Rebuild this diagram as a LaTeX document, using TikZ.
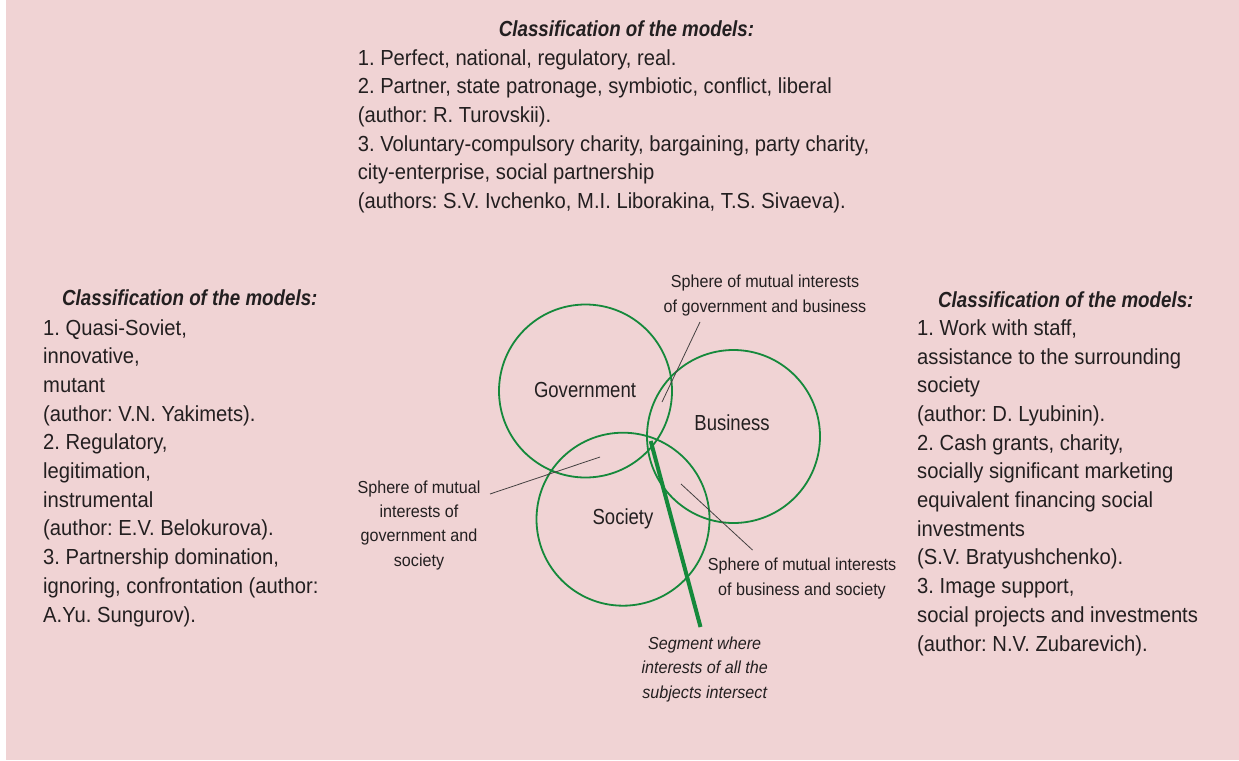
\documentclass[tikz,border=0pt]{standalone}
\usepackage{fontspec}
\setmainfont{Liberation Sans}[FakeStretch=0.927]
\newfontfamily\ttlfont{Liberation Sans}[FakeStretch=0.86]
\newfontfamily\lblfont{Liberation Sans}[FakeStretch=0.85]
\usetikzlibrary{shapes.geometric}
\definecolor{bgpink}{HTML}{F0D3D4}
\definecolor{txtc}{HTML}{231F20}
\definecolor{grn}{HTML}{15893B}
\frenchspacing
\begin{document}
\begin{tikzpicture}[x=1pt,y=-1pt,
  body/.style={font=\fontsize{21.8}{28.7}\selectfont\frenchspacing, text=txtc, inner sep=0pt, align=left, anchor=base west},
  ttl/.style={font=\ttlfont\fontsize{21.8}{28.7}\selectfont\bfseries\itshape, text=txtc, inner sep=0pt, anchor=base west},
  lbl/.style={font=\fontsize{17.4}{24.2}\selectfont, text=txtc, inner sep=0pt, align=center, anchor=base},
  inlbl/.style={font=\lblfont\fontsize{21.8}{26}\selectfont, text=txtc, inner sep=0pt},
  circ/.style={draw=grn, line width=1.8pt, inner sep=0pt, circle, minimum size=173pt},
  leader/.style={draw=txtc!85, line width=0.8pt}]
\useasboundingbox (0,0) rectangle (1239,760);
\fill[white] (0,0) rectangle (1239,760);
\fill[bgpink] (6,0) rectangle (1239,760);

% top block (anchor = baseline of last line)
\node[ttl, anchor=base] (ttop) at (626.5,37) {Classification of the models:};
\node[body] (btop) at (357.6,208.5) {1. Perfect, national, regulatory, real.\\
2. Partner, state patronage, symbiotic, conflict, liberal\\
(author: R. Turovskii).\\
3. Voluntary-compulsory charity, bargaining, party charity,\\
city-enterprise, social partnership\\
(authors: S.V. Ivchenko, M.I. Liborakina, T.S. Sivaeva).};

% left block
\node[ttl] (tleft) at (62,305) {Classification of the models:};
\node[body] (bleft) at (43,622) {1. Quasi-Soviet,\\
innovative,\\
mutant\\
(author: V.N. Yakimets).\\
2. Regulatory,\\
legitimation,\\
instrumental\\
(author: E.V. Belokurova).\\
3. Partnership domination,\\
ignoring, confrontation (author:\\
A.Yu. Sungurov).};

% right block
\node[ttl] (tright) at (938,307) {Classification of the models:};
\node[body] (bright) at (917,651) {1. Work with staff,\\
assistance to the surrounding\\
society\\
(author: D. Lyubinin).\\
2. Cash grants, charity,\\
socially significant marketing\\
equivalent financing social\\
investments\\
(S.V. Bratyushchenko).\\
3. Image support,\\
social projects and investments\\
(author: N.V. Zubarevich).};

% circles
\node[circ] (gov) at (585.5,391) {};
\node[circ] (bus) at (733.5,436.5) {};
\node[circ] (soc) at (623,519.2) {};

\node[inlbl] (govt) at (585,390) {Government};
\node[inlbl] (bust) at (732,423) {Business};
\node[inlbl] (soct) at (623,519) {Society};

% labels (anchor = baseline of last line)
\node[lbl] (lgb) at (765,312) {Sphere of mutual interests\\of government and business};
\node[lbl] (lgs) at (419,566) {Sphere of mutual\\interests of\\government and\\society};
\node[lbl] (lbs) at (802,595) {Sphere of mutual interests\\of business and society};
\node[lbl, font=\fontsize{17.4}{24.2}\selectfont\itshape] (lseg) at (704.7,698) {Segment where\\interests of all the\\subjects intersect};

% leaders
\coordinate (gb1) at (700,322); \coordinate (gb2) at (662,402);
\coordinate (gs1) at (490,494); \coordinate (gs2) at (600,457);
\coordinate (bs1) at (752.5,550); \coordinate (bs2) at (681,484);
\coordinate (sg1) at (650.7,441); \coordinate (sg2) at (700.5,627);
\draw[leader] (gb1) -- (gb2);
\draw[leader] (gs1) -- (gs2);
\draw[leader] (bs1) -- (bs2);
\draw[draw=grn, line width=4pt] (sg1) -- (sg2);
\end{tikzpicture}
\end{document}
